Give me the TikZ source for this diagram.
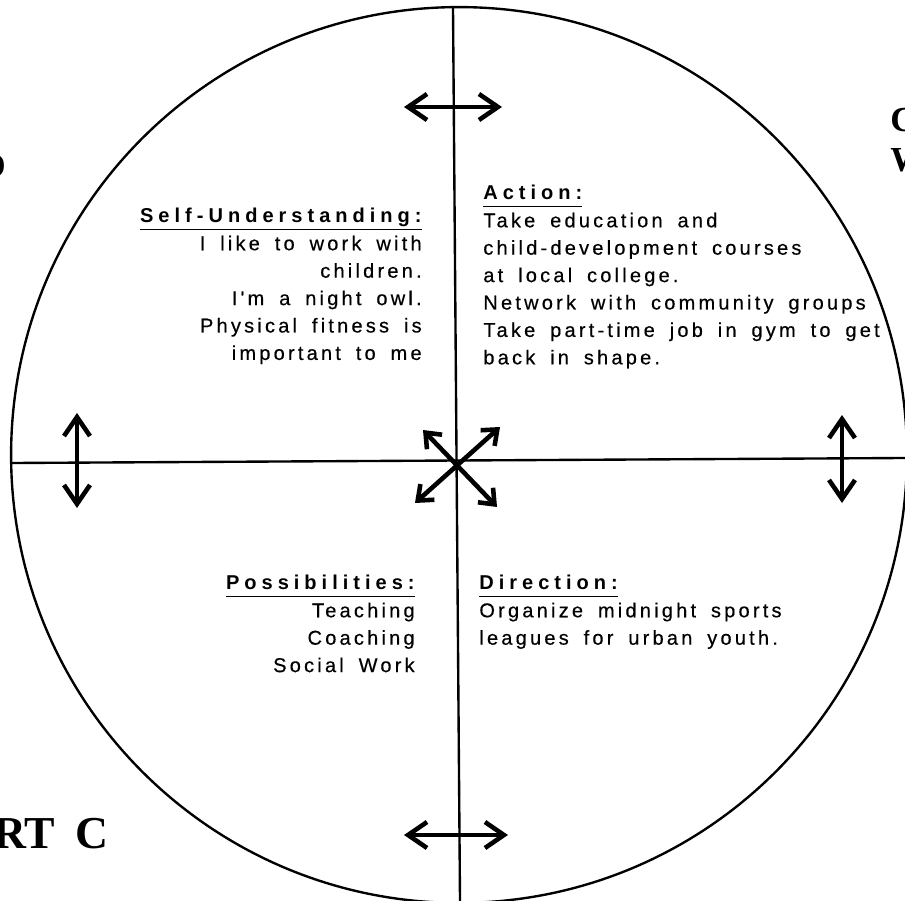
\documentclass[tikz,border=0pt]{standalone}
\usepackage{fontspec}
\usepackage{tikz}
\usetikzlibrary{arrows.meta}
\newfontfamily\bodyfont[LetterSpace=16,WordSpace=1.7,FakeBold=0.4]{Liberation Sans}
\newfontfamily\headfont[LetterSpace=25]{Liberation Sans}
\newfontfamily\serifbold{Liberation Serif}
\newcommand{\headline}[1]{\underline{{\headfont\bfseries #1}\vphantom{g}}}

\begin{document}
\begin{tikzpicture}[x=0.02cm, y=-0.02cm, every node/.style={inner sep=0pt},
                blocktxt/.style={align=#1, font=\bodyfont\fontsize{11.4}{15.6}\selectfont},
                edgetxt/.style={font=\serifbold\bfseries\fontsize{20}{24}\selectfont},
                rule/.style={line width=1.35pt},
                dbl/.style={{Straight Barb[length=0.38cm,width=0.52cm]}-{Straight Barb[length=0.38cm,width=0.52cm]}, line width=2.6pt, line cap=round, line join=round},
                small dbl/.style={{Straight Barb[length=0.26cm,width=0.42cm]}-{Straight Barb[length=0.26cm,width=0.42cm]}, line width=2.6pt, line cap=round, line join=round}]
                \path[use as bounding box] (0,0) rectangle (905,901);
                \clip (0,0) rectangle (905,901);

                \draw[rule] (459,455) circle [radius=8.96cm];
                \coordinate (top) at (453,8);
                \coordinate (bottom) at (460,901);
                \coordinate (left) at (12,463);
                \coordinate (right) at (905,458);
                \draw[rule] (top) -- (bottom);
                \draw[rule] (left) -- (right);

                \node (su) [blocktxt=right, anchor=north east] at (422,208) {\headline{Self-Understanding:}\\ I like to work with\\ children.\\ I'm a night owl.\\ Physical fitness is\\ important to me};
                \node (act) [blocktxt=left, anchor=north west] at (483,185) {\headline{Action:}\\ Take education and\\ child-development courses\\ at local college.\\ Network with community groups\\ Take part-time job in gym to get\\ back in shape.};
                \node (pos) [blocktxt=right, anchor=north east] at (415,575) {\headline{Possibilities:}\\ Teaching\\ Coaching\\ Social Work};
                \node (dir) [blocktxt=left, anchor=north west] at (479,575) {\headline{Direction:}\\ Organize midnight sports\\ leagues for urban youth.};

                \node (c) [edgetxt, anchor=base west] at (890,132) {C};
                \node (w) [edgetxt, anchor=base west] at (890,172) {W};
                \node (d) [edgetxt, anchor=base east] at (6,178) {D};
                \node (part) [edgetxt, font=\serifbold\bfseries\fontsize{26}{30}\selectfont, anchor=base west] at (-7,848) {RT\hspace{0.45em}C};

                \coordinate (n-l) at (404,107);
                \coordinate (n-r) at (502,107);
                \coordinate (s-l) at (404,835);
                \coordinate (s-r) at (508,835);
                \coordinate (w-t) at (77,413);
                \coordinate (w-b) at (77,508);
                \coordinate (e-t) at (842,415);
                \coordinate (e-b) at (842,503);
                \coordinate (nw) at (423,430);
                \coordinate (se) at (497,507);
                \coordinate (ne) at (500,427);
                \coordinate (sw) at (415,503);

                \draw[dbl] (n-l) -- (n-r);
                \draw[dbl] (s-l) -- (s-r);
                \draw[dbl] (w-t) -- (w-b);
                \draw[dbl] (e-t) -- (e-b);
                \draw[small dbl] (nw) -- (se);
                \draw[small dbl] (ne) -- (sw);
            \end{tikzpicture}
\end{document}
